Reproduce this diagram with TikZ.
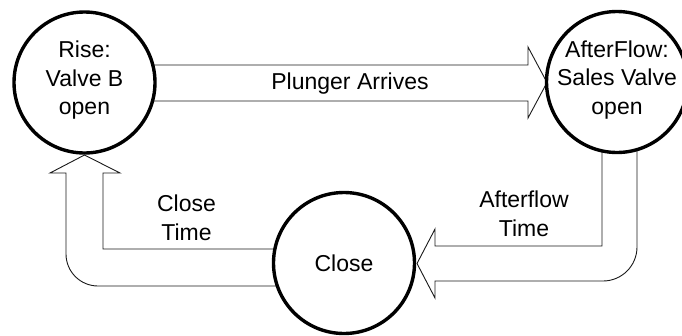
\documentclass[tikz,border=0pt]{standalone}
\usepackage{fontspec}
\setmainfont{Liberation Sans}
\begin{document}
\begin{tikzpicture}[x=1pt,y=-1pt,
  state/.style={circle,draw=black,line width=3.4pt,fill=white,minimum size=141pt,inner sep=0pt,align=center,font=\fontsize{23}{28.5}\selectfont},
  blockarrow/.style={draw=black!90,line width=0.9pt,line join=miter},
  lbl/.style={align=center,font=\fontsize{23}{28.5}\selectfont,inner sep=0pt}]
\useasboundingbox (0,0) rectangle (682,335);
\clip (0,0) rectangle (682,335);
% state positions (coordinates only)
\coordinate (pr) at (84.5,82.5);
\coordinate (pa) at (617,82);
\coordinate (pc) at (344,263);
% block arrows (drawn first, circles cover their ends)
\draw[blockarrow] (150,65) -- (528,65) -- (528,47) -- (547,82.5) -- (528,118) -- (528,101) -- (150,101);
\draw[blockarrow] (602,140) -- (602,246) -- (435,246) -- (435,229) -- (417,263.5) -- (435,298) -- (435,281)
   [rounded corners=34pt] -- (637,281) -- (637,140);
\draw[blockarrow] (280,249) -- (103,249) -- (103,173) -- (120,173) -- (84.5,155) -- (50,173) -- (66,173)
   [rounded corners=32pt] -- (66,286) -- (280,286);
% states
\node[state] (rise) at (pr) {};
\node[state] (after) at (pa) {};
\node[state] (close) at (pc) {};
\node[lbl] (trise) at ([yshift=2pt]rise.center) {Rise:\\Valve B\\open};
\node[lbl] (tafter) at ([yshift=2pt]after.center) {AfterFlow:\\Sales Valve\\open};
\node[lbl] (tclose) at (close.center) {Close};
% labels
\node[lbl] (l1) at (350,84) {Plunger Arrives};
\node[lbl] (l2) at (524,214) {Afterflow\\Time};
\node[lbl] (l3) at (186.5,218) {Close\\Time};
\end{tikzpicture}
\end{document}
